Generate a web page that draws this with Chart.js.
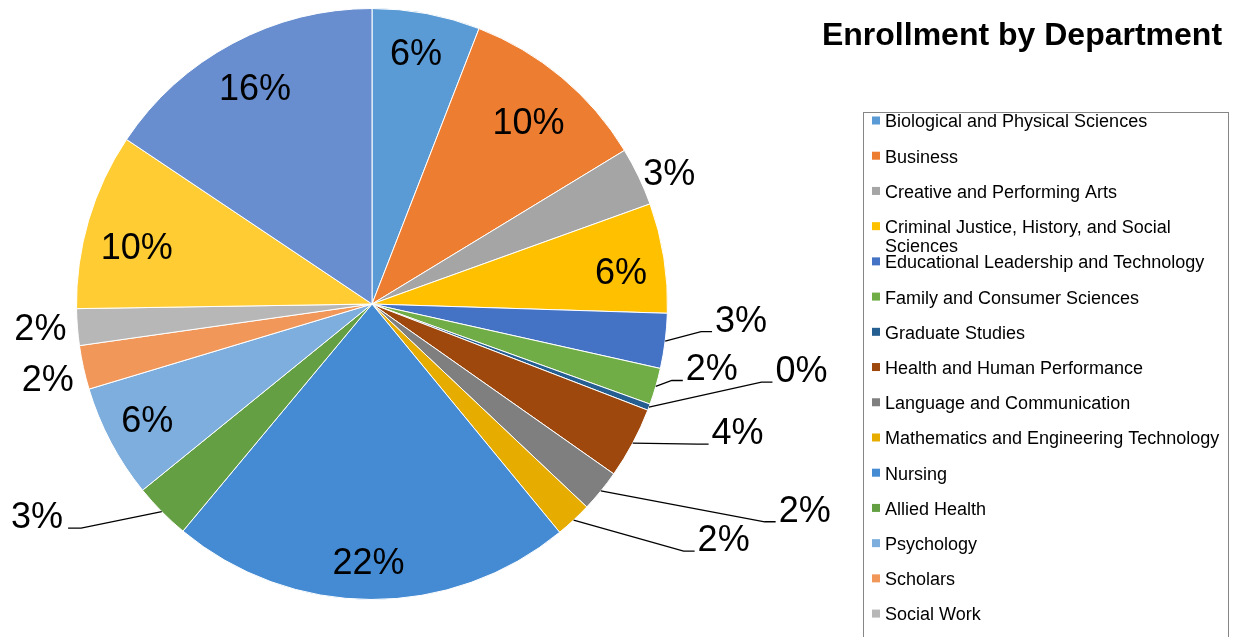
<!DOCTYPE html>
<html>
<head>
<meta charset="utf-8">
<script src="https://cdn.jsdelivr.net/npm/chart.js@4.4.1/dist/chart.umd.min.js"></script>
<style>
  html, body { margin: 0; padding: 0; background: #ffffff; overflow: hidden; }
  #wrap { position: relative; width: 1236px; height: 637px; }
  canvas { display: block; }
</style>
</head>
<body>
<div id="wrap"><canvas id="c" width="1236" height="637"></canvas></div>
<script>
// ---- Data ----
const chartTitle = "Enrollment by Department";
const categories = [
  "Biological and Physical Sciences",
  "Business",
  "Creative and Performing Arts",
  "Criminal Justice, History, and Social Sciences",
  "Educational Leadership and Technology",
  "Family and Consumer Sciences",
  "Graduate Studies",
  "Health and Human Performance",
  "Language and Communication",
  "Mathematics and Engineering Technology",
  "Nursing",
  "Allied Health",
  "Psychology",
  "Scholars",
  "Social Work",
  "Undeclared",
  "General Studies"
];
const shares = [5.9, 10.4, 3.2, 6.0, 3.0, 2.0, 0.35, 3.9, 2.3, 2.0, 22.0, 3.1, 6.2, 2.4, 2.0, 9.65, 15.6];
// legend text split into lines as it wraps in the reference
const legendLines = [
  ["Biological and Physical Sciences"],
  ["Business"],
  ["Creative and Performing Arts"],
  ["Criminal Justice, History, and Social", "Sciences"],
  ["Educational Leadership and Technology"],
  ["Family and Consumer Sciences"],
  ["Graduate Studies"],
  ["Health and Human Performance"],
  ["Language and Communication"],
  ["Mathematics and Engineering Technology"],
  ["Nursing"],
  ["Allied Health"],
  ["Psychology"],
  ["Scholars"],
  ["Social Work"],
  ["Undeclared"],
  ["General Studies"]
];

// ---- Styles ----
const colors = [
  "#5B9BD5", "#ED7D31", "#A5A5A5", "#FFC000", "#4472C4", "#70AD47",
  "#255E91", "#9E480E", "#7F7F7F", "#E6AC00", "#448BD3", "#64A043",
  "#7DAEDD", "#F1975A", "#B7B7B7", "#FFCD33", "#698ED0"
];
// label placement: f = radius factor, da = angle offset (deg) from slice middle,
// leader: 'r' (label right of pie) / 'l' (label left of pie) / null
const labelPlacement = [
  {f: 0.865, da: -0.7}, {f: 0.815, da: 0.6}, {f: 1.10, da: 1.7}, {f: 0.85, da: 1.5},
  {f: 1.25, da: -4.9, leader: 'r'}, {f: 1.17, da: -5.6, leader: 'r'},
  {f: 1.47, da: -11.8, leader: 'r'}, {f: 1.31, da: -8.9, leader: 'r'},
  {f: 1.62, da: -13.9, leader: 'r'}, {f: 1.43, da: -13.3, leader: 'r'},
  {f: 0.87, da: 0.6}, {f: 1.34, da: 12.4, leader: 'l'}, {f: 0.854, da: 0.8},
  {f: 1.125, da: -0.4}, {f: 1.125, da: 0.5}, {f: 0.82, da: -2.7}, {f: 0.835, da: -0.2}
];
const FONT = '"Liberation Sans", Arial, Helvetica, sans-serif';

const labelPlugin = {
  id: 'pctLabels',
  afterDatasetsDraw(chart) {
    const ctx = chart.ctx;
    const meta = chart.getDatasetMeta(0);
    const data = chart.data.datasets[0].data;
    const total = data.reduce((a, b) => a + b, 0);
    const fs = 36;
    ctx.save();
    ctx.font = fs + 'px ' + FONT;
    ctx.fillStyle = '#000';
    ctx.strokeStyle = '#000';
    ctx.lineWidth = 1.3;
    ctx.textAlign = 'center';
    ctx.textBaseline = 'alphabetic';
    meta.data.forEach((arc, i) => {
      const p = arc.getProps(['x', 'y', 'startAngle', 'endAngle', 'outerRadius'], true);
      const mid = (p.startAngle + p.endAngle) / 2;
      const pl = labelPlacement[i];
      const a = mid + pl.da * Math.PI / 180;
      const cx = p.x + Math.cos(a) * p.outerRadius * pl.f;
      const cy = p.y + Math.sin(a) * p.outerRadius * pl.f;
      const txt = Math.round(data[i] / total * 100) + '%';
      const w = ctx.measureText(txt).width;
      const base = cy + fs * 0.358;
      if (pl.leader) {
        const ex = p.x + Math.cos(mid) * p.outerRadius;
        const ey = p.y + Math.sin(mid) * p.outerRadius;
        let elbowX, endX;
        if (pl.leader === 'r') { elbowX = cx - w / 2 - 14; endX = cx - w / 2 - 3; }
        else { elbowX = cx + w / 2 + 18; endX = cx + w / 2 + 5; }
        ctx.beginPath();
        ctx.moveTo(ex, ey);
        ctx.lineTo(elbowX, base);
        ctx.lineTo(endX, base);
        ctx.stroke();
      }
      ctx.fillText(txt, cx, base);
    });
    ctx.restore();
  },
  afterDraw(chart) {
    const ctx = chart.ctx;
    ctx.save();
    // title
    ctx.fillStyle = '#000';
    ctx.font = 'bold 32px ' + FONT;
    ctx.textAlign = 'center';
    ctx.textBaseline = 'alphabetic';
    ctx.fillText(chartTitle, 1022, 45);
    // legend box
    ctx.strokeStyle = '#868686';
    ctx.lineWidth = 1;
    ctx.strokeRect(863.5, 112.5, 365, 600);
    ctx.font = '18px ' + FONT;
    ctx.textAlign = 'left';
    const ds = chart.data.datasets[0];
    legendLines.forEach((lines, i) => {
      const yc = 121 + i * 35.22;
      ctx.fillStyle = ds.backgroundColor[i];
      ctx.fillRect(872, yc - 4.5, 8, 8);
      ctx.fillStyle = '#000';
      lines.forEach((ln, k) => {
        ctx.fillText(ln, 885, yc + 6.4 + k * 19);
      });
    });
    ctx.restore();
  }
};

new Chart(document.getElementById('c'), {
  type: 'pie',
  data: {
    labels: categories,
    datasets: [{
      data: shares,
      backgroundColor: colors,
      borderColor: '#ffffff',
      borderWidth: 1,
      hoverOffset: 0
    }]
  },
  options: {
    responsive: false,
    animation: false,
    events: [],
    layout: { padding: { left: 76, right: 568, top: 8, bottom: 37 } },
    plugins: {
      legend: { display: false },
      title: { display: false },
      tooltip: { enabled: false }
    }
  },
  plugins: [labelPlugin]
});
</script>
</body>
</html>
